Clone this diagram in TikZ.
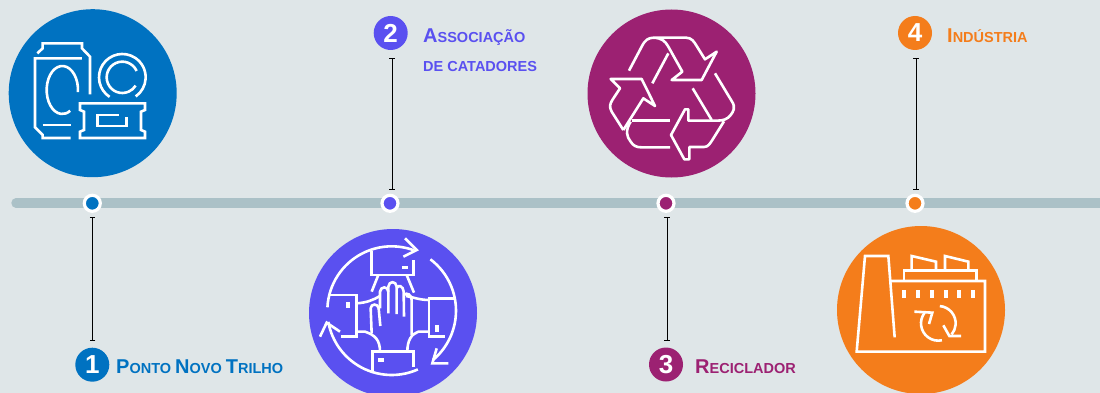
\documentclass[tikz,border=0pt]{standalone}
\usepackage{fontspec}
\setmainfont{Liberation Sans}
\usetikzlibrary{arrows.meta}
\definecolor{bgc}{HTML}{DFE6E8}
\definecolor{linec}{HTML}{ABC1C7}
\definecolor{cblue}{HTML}{0072C1}
\definecolor{cviolet}{HTML}{5A50F0}
\definecolor{cplum}{HTML}{9C2172}
\definecolor{corange}{HTML}{F47D1B}
\newcommand{\bigsc}[2]{{\fontsize{20}{22}\selectfont #1}{\fontsize{14.5}{22}\selectfont #2}}
\newcommand{\smallsc}[1]{{\fontsize{14.5}{22}\selectfont #1}}
\tikzset{
  iconbg/.style={circle,fill=#1,draw=none,minimum size=168pt,inner sep=0pt},
  badge/.style={circle,fill=#1,draw=none,minimum size=34pt,inner sep=0pt,text=white,font=\fontsize{26}{26}\selectfont\bfseries},
  dot/.style={circle,fill=#1,draw=white,line width=3.2pt,minimum size=16pt,inner sep=0pt},
  lbl/.style={anchor=base west,inner sep=0pt,text=#1,font=\bfseries},
  conn/.style={draw=black,line width=1pt,{Bar[width=5.5pt,length=1pt]}-{Bar[width=5.5pt,length=1pt]}},
  ic/.style={draw=white,line width=2.6pt,line join=miter,line cap=butt,fill=none},
  icf/.style={fill=white,draw=none},
  icon/.style={x=0.33333pt,y=-0.33333pt}
}
% centre x, centre y, radius x, radius y, start, end
\newcommand{\earc}[6]{({#1+#3*cos(#5)},{#2+#4*sin(#5)}) arc[start angle=#5,end angle=#6,x radius=#3,y radius=#4]}
\begin{document}
\begin{tikzpicture}[x=1pt,y=-1pt]
\useasboundingbox (0,0) rectangle (1100,393);
\fill[bgc] (0,0) rectangle (1100,393);
\coordinate (lineL) at (16,203);
\coordinate (lineR) at (1106,203);
\draw[linec,line width=9.4pt,line cap=round] (lineL) -- (lineR);

\node[dot=cblue] (dot1) at (92.3,203.3) {};
\node[dot=cviolet] (dot2) at (390,203.3) {};
\node[dot=cplum] (dot3) at (666,203.3) {};
\node[dot=corange] (dot4) at (915,203.3) {};

\node[iconbg=cblue] (ic1) at (92.7,93.2) {};
\node[iconbg=cviolet] (ic2) at (393,313) {};
\node[iconbg=cplum] (ic3) at (671.5,93.5) {};
\node[iconbg=corange] (ic4) at (921,310) {};

\node[badge=cblue] (b1) at (92.3,364.7) {1};
\node[badge=cviolet] (b2) at (390.7,33) {2};
\node[badge=cplum] (b3) at (666,364.5) {3};
\node[badge=corange] (b4) at (915,33) {4};

\coordinate (c1a) at (92.5,216.5); \coordinate (c1b) at (92.5,340.5);
\coordinate (c2a) at (392,58.5);   \coordinate (c2b) at (392,190);
\coordinate (c3a) at (667,217);    \coordinate (c3b) at (667,341);
\coordinate (c4a) at (916,58.5);   \coordinate (c4b) at (916,190);
\draw[conn] (c1a) -- (c1b);
\draw[conn] (c2a) -- (c2b);
\draw[conn] (c3a) -- (c3b);
\draw[conn] (c4a) -- (c4b);

\node[lbl=cblue] (t1) at (116,373) {\bigsc{P}{ONTO }\bigsc{N}{OVO }\bigsc{T}{RILHO}};
\node[lbl=cviolet] (t2) at (423,42.7) {\bigsc{A}{SSOCIAÇÃO}};
\node[lbl=cviolet] (t2b) at (423,71.7) {\smallsc{DE CATADORES}};
\node[lbl=cplum] (t3) at (695,373) {\bigsc{R}{ECICLADOR}};
\node[lbl=corange] (t4) at (947,42.7) {\bigsc{I}{NDÚSTRIA}};

% icon 1: cans
\begin{scope}[shift={(0,0)},icon]
\draw[ic] (112,160) -- (128,145) -- (128,130) -- (246,130) -- (246,145) -- (270,170) -- (270,283);
\draw[ic] (246,175) -- (105,175) -- (105,382) -- (128,405) -- (128,414) -- (212,414);
\draw[ic] (128,375) -- (212,375);
\draw[ic] \earc{187}{270}{47}{72}{5}{-300};
\draw[ic] \earc{367}{232}{70}{70}{123}{415};
\draw[ic] \earc{367}{232}{47}{47}{-24}{-328};
\draw[ic] (240,310) -- (435,310) -- (435,330) -- (423,335) -- (423,390) -- (435,395) -- (435,414) -- (240,414) -- (240,395) -- (252,390) -- (252,335) -- (240,330) -- cycle;
\draw[ic] (357,345) -- (292,345) -- (292,378) -- (380,378) -- (380,352);
\end{scope}

% icon 2: hands
\begin{scope}[shift={(300,220)},icon]
\draw[ic] \earc{275}{272}{193}{193}{183}{290};
\draw[ic] (315,55) -- (350,90) -- (310,110);
\draw[ic] \earc{275}{272}{193}{193}{-53}{50};
\draw[ic] (410,385) -- (397,430) -- (445,430);
\draw[ic] \earc{275}{272}{193}{193}{66}{170};
\draw[ic] (120,335) -- (80,308) -- (60,350);
% sleeves
\draw[ic] (215,92) -- (215,165) -- (340,165) -- (340,120);
\fill[icf] (305,138) rectangle (325,147);
\draw[ic] (235,165) -- (215,215);
\draw[ic] (320,165) -- (342,218);
\draw[ic] (85,225) -- (170,225) -- (170,350) -- (122,350);
\fill[icf] (139,245) rectangle (150,265);
\draw[ic] (170,250) .. controls (200,248) and (220,240) .. (240,228);
\draw[ic] (170,335) -- (195,335) .. controls (225,345) and (240,360) .. (240,395);
\draw[ic] (465,235) -- (387,235) -- (387,350) -- (435,350);
\fill[icf] (406,315) rectangle (417,335);
\draw[ic] (387,240) .. controls (360,240) and (340,232) .. (318,228);
\draw[ic] (387,335) -- (355,335) .. controls (335,342) and (322,360) .. (322,395);
\draw[ic] (340,440) -- (340,395) -- (218,395) -- (218,460);
\fill[icf] (235,415) rectangle (253,425);
% hand
\draw[ic] (215,340) -- (212,265) .. controls (212,250) and (235,250) .. (236,265) -- (241,318);
\draw[ic] (240,265) -- (240,215) .. controls (242,198) and (264,198) .. (265,215) -- (265,280);
\draw[ic] (265,215) -- (265,200) .. controls (267,182) and (288,182) .. (290,200) -- (290,282);
\draw[ic] (290,205) .. controls (294,192) and (310,198) .. (311,215) -- (312,290);
\draw[ic] (312,225) .. controls (320,215) and (335,225) .. (335,240) -- (335,345);
\end{scope}

% icon 3: recycle
\begin{scope}[shift={(580,0)},icon]
\draw[ic,line join=round] (147,212) -- (185,140) .. controls (195,120) and (205,113) .. (222,113) -- (318,113) .. controls (335,113) and (342,125) .. (350,138) -- (375,178) -- (410,155) -- (365,240) -- (275,240) -- (307,215) -- (265,140) .. controls (255,122) and (245,115) .. (222,113);
\draw[ic] (265,160) -- (217,250);
\draw[ic,line join=round] (130,390) -- (95,335) .. controls (87,320) and (90,312) .. (97,300) -- (120,265) -- (92,237) -- (185,237) -- (225,318) -- (190,295) -- (130,390);
\draw[ic] (155,361) -- (270,361);
\draw[ic] (152,365) .. controls (135,392) and (140,410) .. (152,425) .. controls (160,438) and (170,442) .. (185,442) -- (270,442);
\draw[ic,line join=round] (405,220) -- (455,303) .. controls (468,322) and (460,335) .. (452,345) .. controls (442,358) and (430,362) .. (410,362) -- (325,362) -- (325,328) -- (315,328) -- (273,405) -- (313,478) -- (328,478) -- (328,441) -- (372,441) .. controls (385,441) and (390,430) .. (397,420) -- (432,364);
\draw[ic] (338,265) -- (395,360);
\end{scope}

% icon 4: factory
\begin{scope}[shift={(830,220)},icon]
\draw[ic] (194,352) -- (175,108) -- (105,108) -- (80,395) -- (465,395) -- (465,183) -- (185,183);
\draw[ic] (222,183) -- (222,152) -- (440,152) -- (440,183);
\draw[ic] (245,152) -- (245,108) -- (318,125) -- (318,152);
\draw[ic] (345,152) -- (345,108) -- (415,125) -- (415,152);
\foreach \vx in {223,265,305,347,388,430} \fill[icf] (\vx-6,210) rectangle (\vx+6,235);
\draw[ic] \earc{325}{310}{52}{52}{217}{78};
\draw[ic] \earc{325}{310}{52}{52}{-85}{40};
\draw[ic] (253,275) -- (307,278) -- (297,312);
\draw[ic] (340,316) -- (358,348) -- (393,348);
\end{scope}
\end{tikzpicture}
\end{document}
